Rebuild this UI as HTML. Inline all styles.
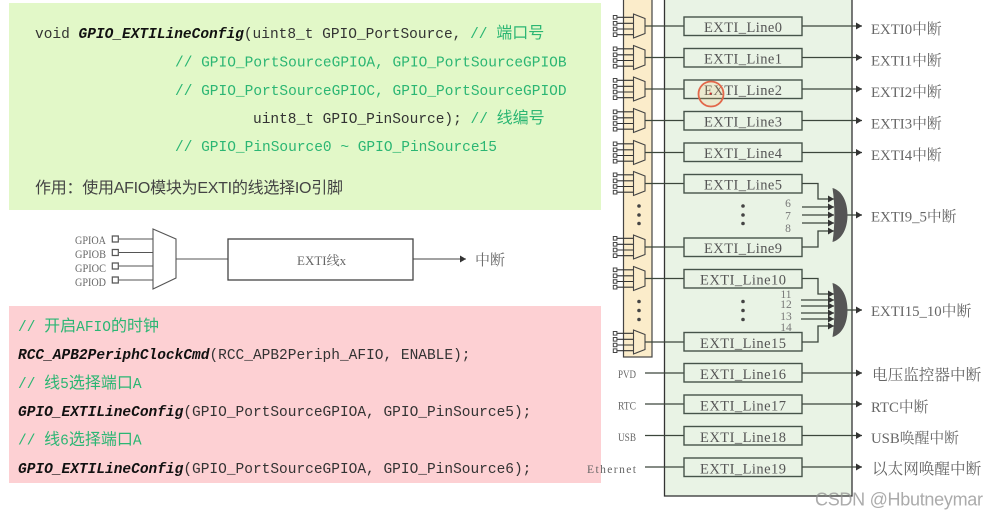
<!DOCTYPE html>
<html><head><meta charset="utf-8">
<style>
html,body{margin:0;padding:0;background:#fff;width:988px;height:517px;overflow:hidden}
svg{display:block;filter:blur(.35px)}
.c{font-family:"Liberation Mono","Noto Sans CJK SC",monospace;font-size:14.5px;fill:#333}
.g{fill:#2bb673}
.k{fill:#111;font-weight:bold;font-style:italic}
.z{font-size:16px;font-family:"Liberation Sans","Noto Sans CJK SC",sans-serif}
.b{font-family:"Liberation Serif",serif;font-size:14.5px;fill:#555}
.o{font-family:"Liberation Serif","Noto Serif CJK SC",serif;font-size:14.8px;fill:#666}
.s{font-family:"Liberation Serif",serif;font-size:11.5px;fill:#666}
.n{font-family:"Liberation Serif",serif;font-size:11.5px;fill:#777;text-anchor:middle}
.l{stroke:#3c463c;stroke-width:1.3;fill:none}
.box{fill:#e9f3e5;stroke:#46534a;stroke-width:1.4}
</style></head><body>
<svg width="988" height="517" viewBox="0 0 988 517" xmlns="http://www.w3.org/2000/svg">
<defs>
<marker id="a" markerWidth="7" markerHeight="8" refX="6" refY="3.5" orient="auto" markerUnits="userSpaceOnUse"><path d="M0 0L6 3.5L0 7z" fill="#333"/></marker>
<g id="m">
<path d="M617 -8.7H634M617 -2.7H634M617 3H634M617 8.7H634" stroke="#333" stroke-width="1.1"/>
<path d="M613.3 -10.5h3.6v3.6h-3.6zM613.3 -4.5h3.6v3.6h-3.6zM613.3 1.2h3.6v3.6h-3.6zM613.3 6.9h3.6v3.6h-3.6z" fill="#fff" stroke="#444" stroke-width="1"/>
<path d="M633.5 -12L645 -7.5V7.5L633.5 12z" fill="#fbecca" stroke="#444" stroke-width="1.1"/>
<path d="M645 0H684" stroke="#3c463c" stroke-width="1.3"/>
</g>
</defs>

<!-- green panel -->
<rect x="9" y="3" width="592" height="207" fill="#e2f8c8"/>
<text class="c" x="35" y="38" xml:space="preserve">void <tspan class="k">GPIO_EXTILineConfig</tspan>(uint8_t GPIO_PortSource, <tspan class="g">// </tspan><tspan class="g" style="font-size:16px">端口号</tspan></text>
<text class="c g" x="175" y="66.5">// GPIO_PortSourceGPIOA, GPIO_PortSourceGPIOB</text>
<text class="c g" x="175" y="95">// GPIO_PortSourceGPIOC, GPIO_PortSourceGPIOD</text>
<text class="c" x="253" y="123" xml:space="preserve">uint8_t GPIO_PinSource); <tspan class="g">// </tspan><tspan class="g" style="font-size:16px">线编号</tspan></text>
<text class="c g" x="175" y="151">// GPIO_PinSource0 ~ GPIO_PinSource15</text>
<text class="z" x="35" y="193" fill="#444" textLength="308">作用：使用AFIO模块为EXTI的线选择IO引脚</text>

<!-- middle diagram -->
<g class="s">
<text x="75" y="244" textLength="31" lengthAdjust="spacingAndGlyphs">GPIOA</text>
<text x="75" y="258" textLength="31" lengthAdjust="spacingAndGlyphs">GPIOB</text>
<text x="75" y="272" textLength="31" lengthAdjust="spacingAndGlyphs">GPIOC</text>
<text x="75" y="286" textLength="31" lengthAdjust="spacingAndGlyphs">GPIOD</text>
</g>
<path d="M119 239H153M119 252.5H153M119 266H153M119 280H153" stroke="#555" stroke-width="1.1"/>
<path d="M112.3 236h6v6h-6zM112.3 249.5h6v6h-6zM112.3 263h6v6h-6zM112.3 277h6v6h-6z" fill="#fff" stroke="#555" stroke-width="1.2"/>
<path d="M153 229L176 239V278L153 289z" fill="#fff" stroke="#555" stroke-width="1.1"/>
<path d="M176 259H228" stroke="#555" stroke-width="1.1"/>
<rect x="228" y="239" width="185" height="41" fill="#fff" stroke="#444" stroke-width="1.3"/>
<path d="M413 259H466" stroke="#444" stroke-width="1.1" marker-end="url(#a)"/>
<text x="297" y="265" font-family="'Liberation Serif','Noto Serif CJK SC',serif" font-size="13" fill="#666">EXTI线x</text>
<text x="475" y="265" font-family="'Noto Serif CJK SC',serif" font-size="15" fill="#666">中断</text>

<!-- pink panel -->
<rect x="9" y="306" width="592" height="177" fill="#fdd0d3"/>
<text class="c g" x="18" y="331" xml:space="preserve">// <tspan style="font-size:16px">开启</tspan>AFIO<tspan style="font-size:16px">的时钟</tspan></text>
<text class="c" x="18" y="359"><tspan class="k">RCC_APB2PeriphClockCmd</tspan>(RCC_APB2Periph_AFIO, ENABLE);</text>
<text class="c g" x="18" y="388" xml:space="preserve">// <tspan style="font-size:16px">线</tspan>5<tspan style="font-size:16px">选择端口</tspan>A</text>
<text class="c" x="18" y="416"><tspan class="k">GPIO_EXTILineConfig</tspan>(GPIO_PortSourceGPIOA, GPIO_PinSource5);</text>
<text class="c g" x="18" y="444.5" xml:space="preserve">// <tspan style="font-size:16px">线</tspan>6<tspan style="font-size:16px">选择端口</tspan>A</text>
<text class="c" x="18" y="473"><tspan class="k">GPIO_EXTILineConfig</tspan>(GPIO_PortSourceGPIOA, GPIO_PinSource6);</text>

<!-- right panels -->
<rect x="623.5" y="-3" width="28.5" height="360" fill="#fbecca" stroke="#444" stroke-width="1.2"/>
<rect x="664.5" y="-3" width="187.5" height="499" fill="#e9f3e5" stroke="#333" stroke-width="1.3"/>

<!-- muxes -->
<use href="#m" y="26"/><use href="#m" y="57.5"/><use href="#m" y="89"/><use href="#m" y="120.5"/><use href="#m" y="152.5"/>
<use href="#m" y="183.5"/><use href="#m" y="247"/><use href="#m" y="278.5"/><use href="#m" y="342"/>

<!-- dots -->
<g fill="#444">
<circle cx="639" cy="206" r="1.8"/><circle cx="639" cy="215" r="1.8"/><circle cx="639" cy="223.5" r="1.8"/>
<circle cx="639" cy="301.5" r="1.8"/><circle cx="639" cy="310.5" r="1.8"/><circle cx="639" cy="319.5" r="1.8"/>
<circle cx="743" cy="206" r="1.8"/><circle cx="743" cy="215" r="1.8"/><circle cx="743" cy="223.5" r="1.8"/>
<circle cx="743" cy="301.5" r="1.8"/><circle cx="743" cy="310.5" r="1.8"/><circle cx="743" cy="319.5" r="1.8"/>
</g>

<!-- left inputs -->
<path class="l" d="M645 373H684M645 404H684M645 435.5H684M645 467H684"/>
<text class="s" x="618" y="378" textLength="18" lengthAdjust="spacingAndGlyphs">PVD</text>
<text class="s" x="618" y="409.500" textLength="18" lengthAdjust="spacingAndGlyphs">RTC</text>
<text class="s" x="618" y="441" textLength="18" lengthAdjust="spacingAndGlyphs">USB</text>
<text class="s" x="587" y="473" textLength="49">Ethernet</text>

<!-- boxes -->
<rect class="box" x="684" y="17" width="118" height="18.5"/>
<rect class="box" x="684" y="48.5" width="118" height="18.5"/>
<rect class="box" x="684" y="80" width="118" height="18.5"/>
<rect class="box" x="684" y="111.5" width="118" height="18.5"/>
<rect class="box" x="684" y="143" width="118" height="18.5"/>
<rect class="box" x="684" y="174.5" width="118" height="18.5"/>
<rect class="box" x="684" y="238" width="118" height="18.5"/>
<rect class="box" x="684" y="269.5" width="118" height="18.5"/>
<rect class="box" x="684" y="332.5" width="118" height="18.5"/>
<rect class="box" x="684" y="363.5" width="118" height="18.5"/>
<rect class="box" x="684" y="395" width="118" height="18.5"/>
<rect class="box" x="684" y="426.5" width="118" height="18.5"/>
<rect class="box" x="684" y="458" width="118" height="18.5"/>
<g class="b">
<text x="704" y="32" textLength="78">EXTI_Line0</text>
<text x="704" y="63.5" textLength="78">EXTI_Line1</text>
<text x="704" y="95" textLength="78">EXTI_Line2</text>
<text x="704" y="126.5" textLength="78">EXTI_Line3</text>
<text x="704" y="158" textLength="78">EXTI_Line4</text>
<text x="704" y="189.5" textLength="78">EXTI_Line5</text>
<text x="704" y="253" textLength="78">EXTI_Line9</text>
<text x="700" y="284.5" textLength="86">EXTI_Line10</text>
<text x="700" y="348" textLength="86">EXTI_Line15</text>
<text x="700" y="379" textLength="86">EXTI_Line16</text>
<text x="700" y="410.5" textLength="86">EXTI_Line17</text>
<text x="700" y="442" textLength="86">EXTI_Line18</text>
<text x="700" y="473.5" textLength="86">EXTI_Line19</text>
</g>

<!-- outputs -->
<g class="l" stroke="#333">
<path d="M802 26H862" marker-end="url(#a)"/>
<path d="M802 57.5H862" marker-end="url(#a)"/>
<path d="M802 89H862" marker-end="url(#a)"/>
<path d="M802 120.5H862" marker-end="url(#a)"/>
<path d="M802 152.5H862" marker-end="url(#a)"/>
<path d="M847 215H862" marker-end="url(#a)"/>
<path d="M847 310H862" marker-end="url(#a)"/>
<path d="M802 373H862" marker-end="url(#a)"/>
<path d="M802 404H862" marker-end="url(#a)"/>
<path d="M802 435.5H862" marker-end="url(#a)"/>
<path d="M802 467H862" marker-end="url(#a)"/>
</g>

<!-- gate inputs -->
<g class="l">
<path d="M802 183.500H818V199H834" marker-end="url(#a)"/>
<path d="M802 207H834" marker-end="url(#a)"/>
<path d="M802 215H834" marker-end="url(#a)"/>
<path d="M802 223H834" marker-end="url(#a)"/>
<path d="M802 247H818V231H834" marker-end="url(#a)"/>
<path d="M802 278.500H818V294H834" marker-end="url(#a)"/>
<path d="M801 300H834" marker-end="url(#a)"/>
<path d="M801 306H834" marker-end="url(#a)"/>
<path d="M801 313H834" marker-end="url(#a)"/>
<path d="M801 319H834" marker-end="url(#a)"/>
<path d="M802 342H818V326H834" marker-end="url(#a)"/>
</g>
<path d="M832.5 188C843 191 847.500 203 847.500 215C847.500 227 843 239 832.500 242C835 225 835 205 832.500 188z" fill="#555"/>
<path d="M832.500 283C843 286 847.500 298 847.500 310C847.500 322 843 334 832.500 337C835 320 835 300 832.500 283z" fill="#555"/>
<g class="n">
<text x="788" y="207">6</text><text x="788" y="219.500">7</text><text x="788" y="232">8</text>
<text x="786" y="298">11</text><text x="786" y="308">12</text><text x="786" y="320">13</text><text x="786" y="331">14</text>
</g>

<!-- output labels -->
<g class="o">
<text x="871" y="34">EXTI0中断</text>
<text x="871" y="65.500">EXTI1中断</text>
<text x="871" y="97">EXTI2中断</text>
<text x="871" y="128.500">EXTI3中断</text>
<text x="871" y="160">EXTI4中断</text>
<text x="871" y="221.500">EXTI9_5中断</text>
<text x="871" y="316">EXTI15_10中断</text>
<text x="872" y="380" style="font-size:15.600px">电压监控器中断</text>
<text x="871" y="412">RTC中断</text>
<text x="871" y="443">USB唤醒中断</text>
<text x="872" y="474" style="font-size:15.600px">以太网唤醒中断</text>
</g>

<!-- cursor highlight -->
<circle cx="711" cy="94" r="12.500" fill="#f5c070" fill-opacity=".18" stroke="#e2674a" stroke-width="1.800"/>
<circle cx="710.500" cy="93.500" r="1" fill="#d22"/>

<!-- watermark -->
<text x="815" y="505.500" font-family="'Liberation Sans',sans-serif" font-size="18" fill="#8f8f8f" fill-opacity=".75" textLength="168">CSDN @Hbutneymar</text>
</svg>
</body></html>
